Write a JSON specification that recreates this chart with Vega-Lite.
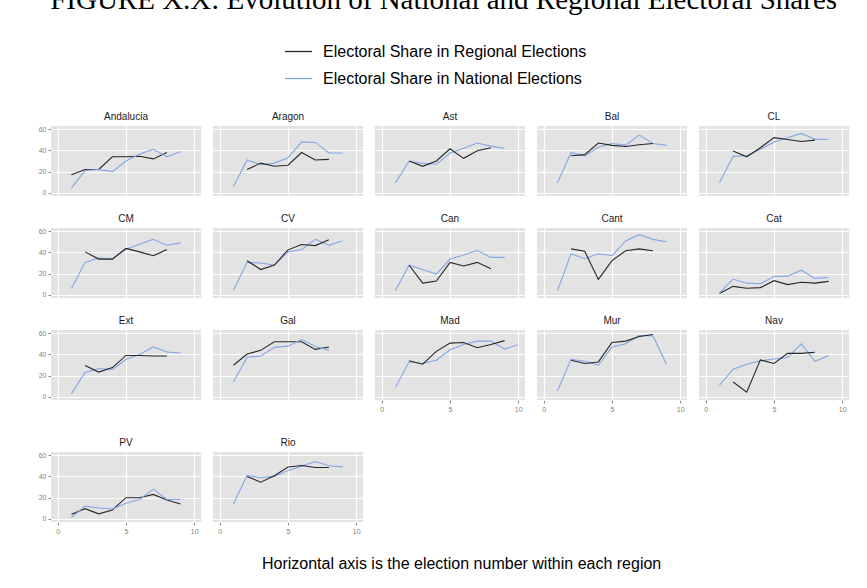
{
  "$schema": "https://vega.github.io/schema/vega-lite/v6.json",
  "background": "white",
  "padding": {"left": 38, "top": -14, "right": 5, "bottom": 5},
  "title": {"text": "FIGURE X.X: Evolution of National and Regional Electoral Shares", "font": "Liberation Serif", "fontSize": 29, "fontWeight": "normal", "color": "black", "anchor": "middle", "offset": 22},
  "data": {"values": [
    {"region":"Andalucia","n":1,"Regional":17,"National":4.7},
    {"region":"Andalucia","n":2,"Regional":22,"National":21},
    {"region":"Andalucia","n":3,"Regional":22,"National":22},
    {"region":"Andalucia","n":4,"Regional":34,"National":20},
    {"region":"Andalucia","n":5,"Regional":34,"National":30},
    {"region":"Andalucia","n":6,"Regional":34.5,"National":36.5},
    {"region":"Andalucia","n":7,"Regional":32,"National":41},
    {"region":"Andalucia","n":8,"Regional":38,"National":34},
    {"region":"Andalucia","n":9,"National":38.7},
    {"region":"Aragon","n":1,"National":6},
    {"region":"Aragon","n":2,"Regional":22,"National":31},
    {"region":"Aragon","n":3,"Regional":28,"National":26.5},
    {"region":"Aragon","n":4,"Regional":25,"National":28},
    {"region":"Aragon","n":5,"Regional":26,"National":33},
    {"region":"Aragon","n":6,"Regional":38,"National":48},
    {"region":"Aragon","n":7,"Regional":31,"National":47.5},
    {"region":"Aragon","n":8,"Regional":31.5,"National":37.5},
    {"region":"Aragon","n":9,"National":37.5},
    {"region":"Ast","n":1,"National":9.4},
    {"region":"Ast","n":2,"Regional":30,"National":29.7},
    {"region":"Ast","n":3,"Regional":25,"National":27.8},
    {"region":"Ast","n":4,"Regional":30,"National":27},
    {"region":"Ast","n":5,"Regional":41.5,"National":37.5},
    {"region":"Ast","n":6,"Regional":32.5,"National":42},
    {"region":"Ast","n":7,"Regional":39.7,"National":47},
    {"region":"Ast","n":8,"Regional":42.5,"National":44},
    {"region":"Ast","n":9,"National":42},
    {"region":"Bal","n":1,"National":9.4},
    {"region":"Bal","n":2,"Regional":35,"National":38},
    {"region":"Bal","n":3,"Regional":36,"National":34.7},
    {"region":"Bal","n":4,"Regional":47,"National":43},
    {"region":"Bal","n":5,"Regional":44.7,"National":46.5},
    {"region":"Bal","n":6,"Regional":43.7,"National":45},
    {"region":"Bal","n":7,"Regional":45.3,"National":54.4},
    {"region":"Bal","n":8,"Regional":46.5,"National":46.5},
    {"region":"Bal","n":9,"National":44.7},
    {"region":"CL","n":1,"National":9.7},
    {"region":"CL","n":2,"Regional":39.4,"National":34.4},
    {"region":"CL","n":3,"Regional":34,"National":35},
    {"region":"CL","n":4,"Regional":42.5,"National":41},
    {"region":"CL","n":5,"Regional":52,"National":48},
    {"region":"CL","n":6,"Regional":50.3,"National":52},
    {"region":"CL","n":7,"Regional":48.4,"National":56},
    {"region":"CL","n":8,"Regional":49.7,"National":50.6},
    {"region":"CL","n":9,"National":50.3},
    {"region":"CM","n":1,"National":5.9},
    {"region":"CM","n":2,"Regional":40.5,"National":30.6},
    {"region":"CM","n":3,"Regional":33.7,"National":34.7},
    {"region":"CM","n":4,"Regional":33.7,"National":34},
    {"region":"CM","n":5,"Regional":43.7,"National":43},
    {"region":"CM","n":6,"Regional":40.5,"National":47.7},
    {"region":"CM","n":7,"Regional":36.8,"National":52.3},
    {"region":"CM","n":8,"Regional":42.7,"National":46.7},
    {"region":"CM","n":9,"National":49},
    {"region":"CV","n":1,"National":4.3},
    {"region":"CV","n":2,"Regional":32.2,"National":30.6},
    {"region":"CV","n":3,"Regional":23.8,"National":30},
    {"region":"CV","n":4,"Regional":28,"National":28},
    {"region":"CV","n":5,"Regional":42.4,"National":40.5},
    {"region":"CV","n":6,"Regional":47.4,"National":42.7},
    {"region":"CV","n":7,"Regional":46.4,"National":52.3},
    {"region":"CV","n":8,"Regional":52,"National":46.7},
    {"region":"CV","n":9,"National":51},
    {"region":"Can","n":1,"National":4},
    {"region":"Can","n":2,"Regional":27.9,"National":27.9},
    {"region":"Can","n":3,"Regional":11,"National":23.8},
    {"region":"Can","n":4,"Regional":13,"National":19.5},
    {"region":"Can","n":5,"Regional":30.6,"National":33.7},
    {"region":"Can","n":6,"Regional":27.2,"National":37.5},
    {"region":"Can","n":7,"Regional":30.6,"National":41.8},
    {"region":"Can","n":8,"Regional":24.5,"National":35.3},
    {"region":"Can","n":9,"National":35.3},
    {"region":"Cant","n":1,"National":4},
    {"region":"Cant","n":2,"Regional":43.3,"National":38.7},
    {"region":"Cant","n":3,"Regional":41,"National":34},
    {"region":"Cant","n":4,"Regional":14.5,"National":38.7},
    {"region":"Cant","n":5,"Regional":32.2,"National":36.8},
    {"region":"Cant","n":6,"Regional":41.5,"National":50.8},
    {"region":"Cant","n":7,"Regional":43.3,"National":56.7},
    {"region":"Cant","n":8,"Regional":41.5,"National":52.3},
    {"region":"Cant","n":9,"National":50},
    {"region":"Cat","n":1,"Regional":1.2,"National":1.9},
    {"region":"Cat","n":2,"Regional":8,"National":14.9},
    {"region":"Cat","n":3,"Regional":6.2,"National":11},
    {"region":"Cat","n":4,"Regional":6.8,"National":10.5},
    {"region":"Cat","n":5,"Regional":13.3,"National":17.3},
    {"region":"Cat","n":6,"Regional":9.6,"National":17.6},
    {"region":"Cat","n":7,"Regional":11.8,"National":23.2},
    {"region":"Cat","n":8,"Regional":11,"National":15.5},
    {"region":"Cat","n":9,"Regional":12.7,"National":16.4},
    {"region":"Ext","n":1,"National":3},
    {"region":"Ext","n":2,"Regional":29.5,"National":23},
    {"region":"Ext","n":3,"Regional":23.3,"National":26.7},
    {"region":"Ext","n":4,"Regional":27.6,"National":25.8},
    {"region":"Ext","n":5,"Regional":39,"National":35.4},
    {"region":"Ext","n":6,"Regional":39,"National":40},
    {"region":"Ext","n":7,"Regional":38.5,"National":47},
    {"region":"Ext","n":8,"Regional":38.5,"National":42.2},
    {"region":"Ext","n":9,"National":41.3},
    {"region":"Gal","n":1,"Regional":29.8,"National":14},
    {"region":"Gal","n":2,"Regional":40.4,"National":37.3},
    {"region":"Gal","n":3,"Regional":43.8,"National":38.5},
    {"region":"Gal","n":4,"Regional":51.9,"National":46.6},
    {"region":"Gal","n":5,"Regional":51.9,"National":47.8},
    {"region":"Gal","n":6,"Regional":51.9,"National":54},
    {"region":"Gal","n":7,"Regional":44.7,"National":47.5},
    {"region":"Gal","n":8,"Regional":47,"National":44},
    {"region":"Mad","n":1,"National":9},
    {"region":"Mad","n":2,"Regional":34,"National":33},
    {"region":"Mad","n":3,"Regional":30.7,"National":31.4},
    {"region":"Mad","n":4,"Regional":42.9,"National":34.5},
    {"region":"Mad","n":5,"Regional":50.6,"National":44.4},
    {"region":"Mad","n":6,"Regional":51.2,"National":49.4},
    {"region":"Mad","n":7,"Regional":46.3,"National":52.5},
    {"region":"Mad","n":8,"Regional":49.4,"National":52.5},
    {"region":"Mad","n":9,"Regional":53,"National":45},
    {"region":"Mad","n":10,"National":49},
    {"region":"Mur","n":1,"National":5.6},
    {"region":"Mur","n":2,"Regional":34.5,"National":35.4},
    {"region":"Mur","n":3,"Regional":31.4,"National":33.5},
    {"region":"Mur","n":4,"Regional":32.9,"National":29.8},
    {"region":"Mur","n":5,"Regional":51.2,"National":46.9},
    {"region":"Mur","n":6,"Regional":52.5,"National":50},
    {"region":"Mur","n":7,"Regional":56.8,"National":57.8},
    {"region":"Mur","n":8,"Regional":58.7,"National":57.5},
    {"region":"Mur","n":9,"National":30.7},
    {"region":"Nav","n":1,"National":10.9},
    {"region":"Nav","n":2,"Regional":14,"National":26},
    {"region":"Nav","n":3,"Regional":4.3,"National":30.7},
    {"region":"Nav","n":4,"Regional":34.8,"National":33.9},
    {"region":"Nav","n":5,"Regional":31.4,"National":35.7},
    {"region":"Nav","n":6,"Regional":41,"National":37},
    {"region":"Nav","n":7,"Regional":41,"National":50},
    {"region":"Nav","n":8,"Regional":42,"National":33.5},
    {"region":"Nav","n":9,"National":38.8},
    {"region":"PV","n":1,"Regional":4.3,"National":1.2},
    {"region":"PV","n":2,"Regional":9.6,"National":12},
    {"region":"PV","n":3,"Regional":4.7,"National":10.2},
    {"region":"PV","n":4,"Regional":8.4,"National":9.3},
    {"region":"PV","n":5,"Regional":19.9,"National":14.6},
    {"region":"PV","n":6,"Regional":19.9,"National":18.3},
    {"region":"PV","n":7,"Regional":23,"National":28},
    {"region":"PV","n":8,"Regional":17.7,"National":18.3},
    {"region":"PV","n":9,"Regional":14,"National":18.3},
    {"region":"Rio","n":1,"National":14},
    {"region":"Rio","n":2,"Regional":40,"National":41},
    {"region":"Rio","n":3,"Regional":34.5,"National":38.8},
    {"region":"Rio","n":4,"Regional":40.7,"National":40},
    {"region":"Rio","n":5,"Regional":48.8,"National":45.6},
    {"region":"Rio","n":6,"Regional":50.3,"National":49.7},
    {"region":"Rio","n":7,"Regional":48.4,"National":54},
    {"region":"Rio","n":8,"Regional":48.4,"National":50},
    {"region":"Rio","n":9,"National":49}
  ]},
  "resolve": {"scale": {"color": "shared"}, "legend": {"color": "shared"}},
  "vconcat": [
    {
      "title": {"text": "Horizontal axis is the election number within each region", "orient": "bottom", "anchor": "middle", "font": "Liberation Sans", "fontSize": 16, "fontWeight": "normal", "color": "black", "offset": 22, "dx": 18},
      "spacing": 26,
      "vconcat": [
        {
          "spacing": 18,
          "vconcat": [
            {
              "transform": [
                {"filter": {"field": "region", "oneOf": ["Andalucia","Aragon","Ast","Bal","CL","CM","CV","Can","Cant","Cat"]}},
                {"fold": ["Regional", "National"], "as": ["series", "share"]},
                {"filter": "isValid(datum.share)"}
              ],
              "facet": {"field": "region", "type": "nominal",
                "sort": ["Andalucia","Aragon","Ast","Bal","CL","CM","CV","Can","Cant","Cat"],
                "header": {"title": null, "labelFont": "Liberation Sans", "labelFontSize": 10, "labelColor": "#1a1a1a", "labelPadding": 4}},
              "columns": 5,
              "spacing": {"row": 18, "column": 12},
              "spec": {
                "width": 150, "height": 70,
                "mark": {"type": "line", "strokeWidth": 1.1},
                "encoding": {
                  "x": {"field": "n", "type": "quantitative", "scale": {"domain": [-0.5, 10.5], "nice": false, "zero": false},
                        "axis": {"title": null, "values": [0, 5, 10], "labels": false, "ticks": false}},
                  "y": {"field": "share", "type": "quantitative", "scale": {"domain": [-3, 63], "nice": false, "zero": false},
                        "axis": {"title": null, "values": [0, 20, 40, 60], "format": "d"}},
                  "color": {"field": "series", "type": "nominal",
                            "scale": {"domain": ["Regional", "National"], "range": ["#262626", "#82A6E6"]},
                            "legend": {"title": null, "orient": "none", "legendX": 233, "legendY": -89, "direction": "vertical",
                                       "symbolType": "stroke", "symbolSize": 729, "symbolStrokeWidth": 1.3,
                                       "labelFont": "Liberation Sans", "labelFontSize": 16, "labelColor": "black", "labelOffset": 10, "rowPadding": 4, "labelLimit": 500,
                                       "labelExpr": "datum.label == 'Regional' ? 'Electoral Share in Regional Elections' : 'Electoral Share in National Elections'"}}
                }
              }
            },
            {
              "spacing": 12,
              "hconcat": [
                {
                  "transform": [
                    {"filter": {"field": "region", "oneOf": ["Ext","Gal"]}},
                    {"fold": ["Regional", "National"], "as": ["series", "share"]},
                    {"filter": "isValid(datum.share)"}
                  ],
                  "facet": {"field": "region", "type": "nominal", "sort": ["Ext","Gal"],
                    "header": {"title": null, "labelFont": "Liberation Sans", "labelFontSize": 10, "labelColor": "#1a1a1a", "labelPadding": 4}},
                  "columns": 5,
                  "spacing": {"row": 18, "column": 12},
                  "spec": {
                    "width": 150, "height": 70,
                    "mark": {"type": "line", "strokeWidth": 1.1},
                    "encoding": {
                      "x": {"field": "n", "type": "quantitative", "scale": {"domain": [-0.5, 10.5], "nice": false, "zero": false},
                            "axis": {"title": null, "values": [0, 5, 10], "labels": false, "ticks": false}},
                      "y": {"field": "share", "type": "quantitative", "scale": {"domain": [-3, 63], "nice": false, "zero": false},
                            "axis": {"title": null, "values": [0, 20, 40, 60], "format": "d"}},
                      "color": {"field": "series", "type": "nominal",
                                "scale": {"domain": ["Regional", "National"], "range": ["#262626", "#82A6E6"]},
                                "legend": {"title": null, "orient": "none", "legendX": 233, "legendY": -89, "direction": "vertical",
                                           "symbolType": "stroke", "symbolSize": 729, "symbolStrokeWidth": 1.3,
                                           "labelFont": "Liberation Sans", "labelFontSize": 16, "labelColor": "black", "labelOffset": 10, "rowPadding": 4, "labelLimit": 500,
                                           "labelExpr": "datum.label == 'Regional' ? 'Electoral Share in Regional Elections' : 'Electoral Share in National Elections'"}}
                    }
                  }
                },
                {
                  "transform": [
                    {"filter": {"field": "region", "oneOf": ["Mad","Mur","Nav"]}},
                    {"fold": ["Regional", "National"], "as": ["series", "share"]},
                    {"filter": "isValid(datum.share)"}
                  ],
                  "facet": {"field": "region", "type": "nominal", "sort": ["Mad","Mur","Nav"],
                    "header": {"title": null, "labelFont": "Liberation Sans", "labelFontSize": 10, "labelColor": "#1a1a1a", "labelPadding": 4}},
                  "columns": 5,
                  "spacing": {"row": 18, "column": 12},
                  "spec": {
                    "width": 150, "height": 70,
                    "mark": {"type": "line", "strokeWidth": 1.1},
                    "encoding": {
                      "x": {"field": "n", "type": "quantitative", "scale": {"domain": [-0.5, 10.5], "nice": false, "zero": false},
                            "axis": {"title": null, "values": [0, 5, 10], "format": "d"}},
                      "y": {"field": "share", "type": "quantitative", "scale": {"domain": [-3, 63], "nice": false, "zero": false},
                            "axis": {"title": null, "values": [0, 20, 40, 60], "labels": false, "ticks": false}},
                      "color": {"field": "series", "type": "nominal",
                                "scale": {"domain": ["Regional", "National"], "range": ["#262626", "#82A6E6"]},
                                "legend": {"title": null, "orient": "none", "legendX": 233, "legendY": -89, "direction": "vertical",
                                           "symbolType": "stroke", "symbolSize": 729, "symbolStrokeWidth": 1.3,
                                           "labelFont": "Liberation Sans", "labelFontSize": 16, "labelColor": "black", "labelOffset": 10, "rowPadding": 4, "labelLimit": 500,
                                           "labelExpr": "datum.label == 'Regional' ? 'Electoral Share in Regional Elections' : 'Electoral Share in National Elections'"}}
                    }
                  }
                }
              ]
            }
          ]
        },
        {
          "transform": [
            {"filter": {"field": "region", "oneOf": ["PV","Rio"]}},
            {"fold": ["Regional", "National"], "as": ["series", "share"]},
            {"filter": "isValid(datum.share)"}
          ],
          "facet": {"field": "region", "type": "nominal", "sort": ["PV","Rio"],
            "header": {"title": null, "labelFont": "Liberation Sans", "labelFontSize": 10, "labelColor": "#1a1a1a", "labelPadding": 4}},
          "columns": 5,
          "spacing": {"row": 18, "column": 12},
          "spec": {
            "width": 150, "height": 70,
            "mark": {"type": "line", "strokeWidth": 1.1},
            "encoding": {
              "x": {"field": "n", "type": "quantitative", "scale": {"domain": [-0.5, 10.5], "nice": false, "zero": false},
                    "axis": {"title": null, "values": [0, 5, 10], "format": "d"}},
              "y": {"field": "share", "type": "quantitative", "scale": {"domain": [-3, 63], "nice": false, "zero": false},
                    "axis": {"title": null, "values": [0, 20, 40, 60], "format": "d"}},
              "color": {"field": "series", "type": "nominal",
                        "scale": {"domain": ["Regional", "National"], "range": ["#262626", "#82A6E6"]},
                        "legend": {"title": null, "orient": "none", "legendX": 233, "legendY": -89, "direction": "vertical",
                                   "symbolType": "stroke", "symbolSize": 729, "symbolStrokeWidth": 1.3,
                                   "labelFont": "Liberation Sans", "labelFontSize": 16, "labelColor": "black", "labelOffset": 10, "rowPadding": 4, "labelLimit": 500,
                                   "labelExpr": "datum.label == 'Regional' ? 'Electoral Share in Regional Elections' : 'Electoral Share in National Elections'"}}
            }
          }
        }
      ]
    }
  ],
  "config": {
    "font": "Liberation Sans",
    "view": {"fill": "#E3E3E3", "stroke": null},
    "axis": {"grid": true, "gridColor": "white", "gridWidth": 1.2, "domain": false, "tickColor": "#8a8a8a", "tickSize": 3,
             "labelColor": "#7f7f7f", "labelFontSize": 7, "labelPadding": 2, "labelFont": "Liberation Sans"}
  }
}
